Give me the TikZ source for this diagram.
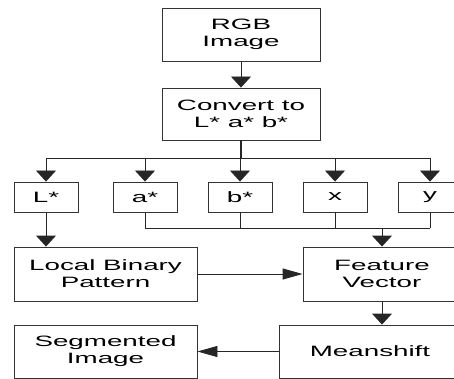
\documentclass[tikz,border=0pt]{standalone}
\usepackage{fontspec}
\newfontfamily\wf[FakeStretch=1.85]{Liberation Sans}
\usetikzlibrary{arrows.meta}
\begin{document}
\begin{tikzpicture}[x=1pt,y=-1pt,
  box/.style={draw=black!80,line width=0.9pt,fill=white,inner sep=0pt,align=center,
    font=\wf\fontsize{15}{17}\selectfont},
  conn/.style={draw=black!85,line width=0.9pt},
  vtip/.style={conn,-{Triangle[width=20pt,length=11pt]}},
  htip/.style={conn,-{Triangle[width=11pt,length=20pt]}}]
\useasboundingbox (0,0) rectangle (454,379);
\clip (0,0) rectangle (454,379);
\fill[white] (0,0) rectangle (454,379);
\node[box,minimum width=158pt,minimum height=53pt] (rgb) at (241,34.5) {RGB\\Image};
\node[box,minimum width=158pt,minimum height=52pt] (conv) at (241,114) {Convert to\\L* a* b*};
\node[box,minimum width=64pt,minimum height=30pt] (lb) at (46,197) {L*};
\node[box,minimum width=64pt,minimum height=30pt] (ab) at (145,197) {a*};
\node[box,minimum width=64pt,minimum height=30pt] (bb) at (240,197) {b*};
\node[box,minimum width=64pt,minimum height=30pt] (xb) at (335,197) {x};
\node[box,minimum width=64pt,minimum height=30pt] (yb) at (430,197) {y};
\node[box,minimum width=183pt,minimum height=54pt] (lbp) at (105.5,274) {Local Binary\\Pattern};
\node[box,minimum width=158pt,minimum height=54pt] (feat) at (382,274) {Feature\\Vector};
\node[box,minimum width=182pt,minimum height=53pt] (ms) at (370,351.5) {Meanshift};
\node[box,minimum width=183pt,minimum height=53pt] (seg) at (105.5,351.5) {Segmented\\Image};
\coordinate (jc) at (241,158);
\coordinate (jl) at (46,158);
\coordinate (ja) at (145,158);
\coordinate (jb) at (240,158);
\coordinate (jx) at (335,158);
\coordinate (jy) at (430,158);
\coordinate (ba) at (145,228);
\coordinate (bb2) at (240,228);
\coordinate (bx) at (335,228);
\coordinate (by) at (430,228);
\coordinate (bf) at (382,228);
\draw[vtip] (rgb) -- (conv);
\draw[conn,line width=1.4pt] (conv) -- (jc);
\draw[conn] (jl) -- (jy);
\draw[vtip] (jl) -- (lb);
\draw[vtip] (ja) -- (ab);
\draw[vtip] (jb) -- (bb);
\draw[vtip] (jx) -- (xb);
\draw[vtip] (jy) -- (yb);
\draw[conn] (ab) -- (ba);
\draw[conn] (bb) -- (bb2);
\draw[conn] (xb) -- (bx);
\draw[conn] (yb) -- (by);
\draw[conn] (ba) -- (by);
\draw[vtip] (bf) -- (feat);
\draw[vtip] (lb) -- (lb |- lbp.north);
\draw[htip] (lbp) -- (feat);
\draw[vtip] (feat.south) -- (feat.south |- ms.north);
\draw[htip] (ms) -- (seg);
\end{tikzpicture}
\end{document}
